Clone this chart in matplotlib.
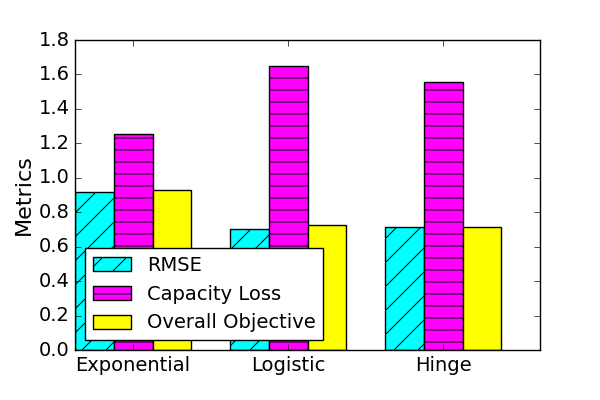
import numpy as np
import matplotlib
matplotlib.use("Agg")
import matplotlib.pyplot as plt

plt.style.use('classic')

# hatch tile is one inch of pixels, so draw at 72 dpi and scale the rest up
s = 100 / 72.0
plt.rcParams['font.size'] = 14 * s
plt.rcParams['axes.linewidth'] = 1.0 * s
plt.rcParams['patch.linewidth'] = 1.0 * s
plt.rcParams['xtick.major.size'] = 4 * s
plt.rcParams['ytick.major.size'] = 4 * s
plt.rcParams['xtick.major.pad'] = 4 * s
plt.rcParams['ytick.major.pad'] = 4 * s
plt.rcParams['xtick.major.width'] = 0.5 * s
plt.rcParams['ytick.major.width'] = 0.5 * s

categories = ['Exponential', 'Logistic', 'Hinge']
rmse = [0.92, 0.705, 0.712]
capacity_loss = [1.256, 1.649, 1.558]
overall = [0.931, 0.728, 0.716]

width = 0.25
x = np.arange(len(categories))

fig = plt.figure(figsize=(600 / 72.0, 400 / 72.0), dpi=72)
ax = fig.add_subplot(111)
fig.subplots_adjust(left=0.125, right=0.9, top=0.9, bottom=0.125)

ax.bar(x, rmse, width, color='cyan', hatch='/', label='RMSE', align='edge')
ax.bar(x + width, capacity_loss, width, color='magenta', hatch='-', label='Capacity Loss', align='edge')
ax.bar(x + 2 * width, overall, width, color='yellow', label='Overall Objective', align='edge')

ax.set_xlim(0, 3)
ax.set_ylim(0, 1.8)
ax.set_yticks(np.arange(0, 1.81, 0.2))
ax.set_xticks(x + 1.5 * width)
ax.set_xticklabels(categories)
ax.set_ylabel('Metrics', fontsize=16 * s)
ax.legend(loc='lower left', fontsize=14 * s)

fig.savefig('out.png', dpi=72)
